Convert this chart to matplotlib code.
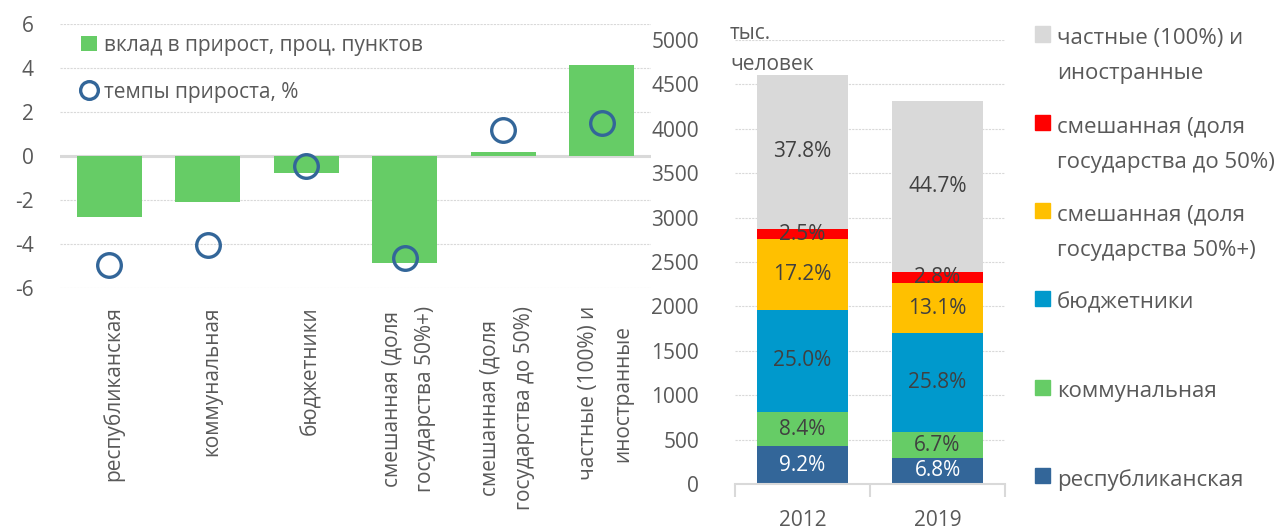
import numpy as np
import matplotlib
matplotlib.use('Agg')
import matplotlib.pyplot as plt
from matplotlib.patches import Rectangle, Patch
from matplotlib.legend_handler import HandlerPatch

plt.rcParams['font.family'] = ['Open Sans', 'DejaVu Sans']
plt.rcParams['axes.unicode_minus'] = False

# left panel: contribution to growth and growth rates, 2012-2019
categories = ['республиканская', 'коммунальная', 'бюджетники',
              'смешанная (доля\nгосударства 50%+)',
              'смешанная (доля\nгосударства до 50%)',
              'частные (100%) и\nиностранные']
contribution = [-2.75, -2.1, -0.76, -4.88, 0.2, 4.14]
growth_rate = [-4.95, -4.05, -0.45, -4.65, 1.18, 1.5]

# right panel: employment structure, thousand people
years = ['2012', '2019']
totals = [4605, 4320]
series_names = ['республиканская', 'коммунальная', 'бюджетники',
                'смешанная (доля\nгосударства 50%+)',
                'смешанная (доля\nгосударства до 50%)',
                'частные (100%) и\nиностранные']
shares = {
    'республиканская': [9.2, 6.8],
    'коммунальная': [8.4, 6.7],
    'бюджетники': [25.0, 25.8],
    'смешанная (доля\nгосударства 50%+)': [17.2, 13.1],
    'смешанная (доля\nгосударства до 50%)': [2.5, 2.8],
    'частные (100%) и\nиностранные': [37.8, 44.7],
}
colors = ['#336699', '#66CC66', '#0099CC', '#FFC000', '#FF0000', '#D9D9D9']

GREY = '#595959'
GRID = '#D9D9D9'

W, H = 1285, 529
fig = plt.figure(figsize=(W / 100, H / 100), dpi=100)

# ---- left chart
ax1 = fig.add_axes([60 / W, 1 - 288 / H, 591 / W, 264 / H])
x = np.arange(len(categories))
b = ax1.bar(x, contribution, width=0.66, color='#66CC66', zorder=2)
ln, = ax1.plot(x, growth_rate, 'o', ms=17, mfc='none', mec='#336699',
               mew=2.4, zorder=3)
ax1.set_xlim(-0.5, len(categories) - 0.5)
ax1.set_ylim(-6, 6)
ax1.set_yticks(np.arange(-6, 7, 2))
ax1.set_xticks(x + 0.04)
ax1.set_xticklabels(categories, rotation=90, ha='center', va='top',
                    multialignment='center', linespacing=1.8)
ax1.tick_params(axis='x', length=0, pad=13, labelsize=15, labelcolor=GREY)
ax1.tick_params(axis='y', length=0, pad=19, labelsize=15, labelcolor=GREY)
ax1.grid(axis='y', color=GRID, linestyle=(0, (2, 1)), linewidth=0.8, zorder=0)
ax1.axhline(0, color=GRID, linewidth=2.2, zorder=1)
for s in ax1.spines.values():
    s.set_visible(False)
ax1.legend([b, ln], ['вклад в прирост, проц. пунктов', 'темпы прироста, %'],
           loc='upper left', bbox_to_anchor=(0.035, 0.96), frameon=False,
           fontsize=15, labelcolor=GREY, handlelength=0.8, handletextpad=0.3,
           labelspacing=1.25, borderaxespad=0, borderpad=0, markerscale=0.75)

# ---- right chart
ax2 = fig.add_axes([735 / W, 1 - 484 / H, 270 / W, 444 / H])
xr = np.arange(len(years))
bottom = np.zeros(len(years))
for name, col in zip(series_names, colors):
    vals = np.array(totals) * np.array(shares[name]) / 100
    bars = ax2.bar(xr, vals, width=0.667, bottom=bottom, color=col,
                   zorder=2, label=name)
    labs = ['%.1f%%' % v for v in shares[name]]
    ax2.bar_label(bars, labels=labs, label_type='center', fontsize=15,
                  color='white' if name == 'республиканская' else '#404040')
    bottom += vals
ax2.set_xlim(-0.5, 1.5)
ax2.set_ylim(0, 5000)
ax2.set_yticks(np.arange(0, 5001, 500))
ax2.set_xticks(xr)
ax2.set_xticklabels(years)
ax2.set_xticks([-0.5, 0.5, 1.5], minor=True)
ax2.tick_params(axis='x', which='major', length=0, pad=19, labelsize=15,
                labelcolor=GREY)
ax2.tick_params(axis='x', which='minor', length=9, width=1.5, color=GRID)
ax2.tick_params(axis='y', length=0, pad=26, labelsize=15, labelcolor=GREY)
ax2.grid(axis='y', color=GRID, linestyle=(0, (2, 1)), linewidth=0.8, zorder=0)
for k, s in ax2.spines.items():
    s.set_visible(k == 'bottom')
ax2.spines['bottom'].set_color(GRID)
ax2.spines['bottom'].set_linewidth(1.5)
fig.text(730 / W, 1 - 23 / H, 'тыс.\nчеловек', ha='left', va='top',
         fontsize=15, color=GREY, linespacing=1.6)


def top_square(legend, orig_handle, xdescent, ydescent, width, height,
               fontsize):
    s = 0.68 * fontsize
    return Rectangle((-xdescent, 16.3), s, s)


handles = [Patch(color=c) for c in colors][::-1]
labels = [n if '\n' in n else n + '\n ' for n in series_names][::-1]
leg = fig.legend(handles, labels, loc='upper left',
                 bbox_to_anchor=(1035 / W, 1 - 28 / H), frameon=False,
                 labelcolor=GREY, handlelength=0.68, handletextpad=0.32,
                 labelspacing=1.43, borderaxespad=0, borderpad=0,
                 handler_map={Patch: HandlerPatch(patch_func=top_square)},
                 prop={'size': 16})
for t in leg.get_texts():
    t.set_linespacing(1.9)

fig.savefig('out.png', dpi=100)
